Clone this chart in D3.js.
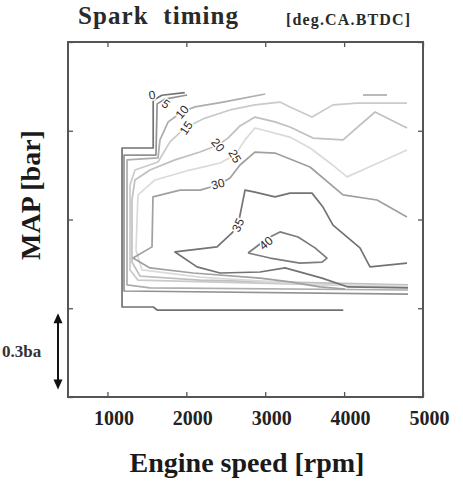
<!DOCTYPE html>
<html><head><meta charset="utf-8">
<script src="https://cdn.jsdelivr.net/npm/d3@7/dist/d3.min.js"></script>
<style>body{margin:0;background:#fff}svg{display:block}</style>
</head><body>
<svg id="chart" width="463" height="481"></svg>
<script>
// ---- data (engine speed in rpm, MAP in bar) ----
const xTicks = [1000, 2000, 3000, 4000, 5000];
const xTickLabels = ["1000", "2000", "3000", "4000", "5000"];
const yTicks = [0.25, 0.6, 0.95, 1.3, 1.65];
const levels = [0, 5, 10, 15, 20, 25, 30, 35, 40];

const c0 = [[[1980,1.450],[1690,1.440],[1580,1.420],[1580,1.232],[1185,1.232],[1185,0.605],[1580,0.605],[1630,0.593],[3990,0.593]]];
const c5 = [[[2010,1.441],[1730,1.425],[1630,1.406],[1615,1.204],[1210,1.204],[1210,0.668],[4810,0.656]]];
const c10 = [[[3000,1.445],[2465,1.413],[2110,1.394],[1945,1.374],[1770,1.335],[1666,1.264],[1641,1.193],[1248,1.185],[1248,0.692],[1539,0.680],[4810,0.672]],
             [[4240,1.441],[4544,1.441]]];
const c15 = [[[4797,1.409],[4163,1.409],[3859,1.402],[3593,1.354],[3314,1.394],[3187,1.413],[2870,1.402],[2554,1.382],[2237,1.350],[1983,1.311],[1793,1.256],[1641,1.177],[1349,1.145],[1286,1.086],[1286,0.751],[1387,0.711],[4810,0.684]]];
const c20 = [[[4797,1.311],[4392,1.374],[3986,1.264],[3606,1.271],[3314,1.315],[3124,1.335],[2870,1.354],[2680,1.319],[2528,1.271],[2401,1.244],[2173,1.216],[1856,1.185],[1539,1.145],[1349,1.106],[1311,1.027],[1311,0.782],[1413,0.727],[2173,0.711],[4810,0.692]]];
const c25 = [[[4797,1.224],[4290,1.153],[4037,1.118],[3821,1.173],[3568,1.232],[3314,1.275],[2870,1.311],[2744,1.264],[2617,1.204],[2427,1.173],[2046,1.145],[1603,1.106],[1387,1.047],[1362,0.830],[1438,0.751],[2173,0.723],[3694,0.692],[4810,0.688]]];
const c30 = [[[4797,0.960],[4417,1.027],[3986,1.047],[3568,1.157],[3124,1.212],[2870,1.216],[2680,1.165],[2554,1.114],[2401,1.086],[2173,1.066],[1920,1.066],[1577,1.039],[1565,0.842],[1324,0.798],[1539,0.759],[2085,0.739],[2934,0.719],[3314,0.704],[3694,0.684],[4011,0.676]]];
const c35 = [[[4797,0.778],[4328,0.763],[4201,0.838],[3859,0.928],[3732,0.999],[3593,1.054],[3314,1.054],[3124,1.039],[2870,1.058],[2744,1.066],[2706,1.007],[2655,0.928],[2579,0.897],[2389,0.842],[1856,0.822],[2135,0.763],[2427,0.739],[2934,0.743],[3251,0.759],[3720,0.719],[4049,0.684],[4810,0.680]]];
const c40 = [[[2782,0.818],[3035,0.877],[3187,0.901],[3416,0.881],[3631,0.838],[3783,0.798],[3720,0.782],[3441,0.778],[3061,0.798],[2782,0.818]]];
const contourSets = [c0, c5, c10, c15, c20, c25, c30, c35, c40];

const labelRpm = [1565, 1742, 1945, 1996, 2401, 2617, 2401, 2655, 3010];
const labelBar = [1.441, 1.406, 1.374, 1.311, 1.244, 1.200, 1.090, 0.928, 0.857];
const labelAngle = [-10, 35, -50, -55, 50, 60, -15, -65, -40];
const arrowBar = [0.28, 0.58];

// ---- styles ----
const levelColor = ["#727272","#929292","#adadad","#cacaca","#c0c0c0","#dadada","#a0a0a0","#737373","#7c7c7c"];

const svg = d3.select("#chart");
const W = 463, H = 481;
const L = 68, R = 423, T = 42, B = 397;
svg.append("rect").attr("width", W).attr("height", H).attr("fill", "#fff");

const x = d3.scaleLinear().domain([500, 5000]).range([L, R]);
const y = d3.scaleLinear().domain([0.25, 1.65]).range([B, T]);

const serif = "'Liberation Serif','Times New Roman',serif";

// contours
svg.append("clipPath").attr("id", "clip").append("rect")
  .attr("x", L).attr("y", T).attr("width", R - L).attr("height", B - T);
const g = svg.append("g").attr("clip-path", "url(#clip)");
const line = d3.line().x(d => x(d[0])).y(d => y(d[1]));
contourSets.forEach((segs, i) => {
  segs.forEach(seg => {
    g.append("path").attr("d", line(seg)).attr("fill", "none")
      .attr("stroke", levelColor[i]).attr("stroke-width", 1.7)
      .attr("stroke-linejoin", "round");
  });
});

// contour labels
levels.forEach((lv, i) => {
  svg.append("text")
    .attr("transform", `translate(${x(labelRpm[i])},${y(labelBar[i])}) rotate(${labelAngle[i]})`)
    .attr("text-anchor", "middle").attr("dy", "0.35em")
    .attr("font-family", "'Liberation Sans',Arial,sans-serif").attr("font-size", 12)
    .attr("fill", "#2a2a2a").attr("stroke", "#fff").attr("stroke-width", 3)
    .attr("paint-order", "stroke")
    .text(String(lv));
});

// axes (inward ticks)
const axB = svg.append("g").attr("transform", `translate(0,${B})`)
  .call(d3.axisBottom(x).tickValues(xTicks).tickFormat((d, i) => xTickLabels[i]).tickSizeInner(-5).tickSizeOuter(0).tickPadding(14));
const axT = svg.append("g").attr("transform", `translate(0,${T})`)
  .call(d3.axisTop(x).tickValues(xTicks).tickFormat("").tickSizeInner(-5).tickSizeOuter(0));
const axL = svg.append("g").attr("transform", `translate(${L},0)`)
  .call(d3.axisLeft(y).tickValues(yTicks).tickFormat("").tickSizeInner(-5).tickSizeOuter(0));
const axR = svg.append("g").attr("transform", `translate(${R},0)`)
  .call(d3.axisRight(y).tickValues(yTicks).tickFormat("").tickSizeInner(-5).tickSizeOuter(0));
[axB, axT, axL, axR].forEach(a => {
  a.select(".domain").remove();
  a.selectAll(".tick line").attr("stroke", "#555").attr("stroke-width", 1.3);
});
axB.selectAll(".tick text").attr("font-family", serif).attr("font-weight", "bold")
  .attr("font-size", 20).attr("fill", "#222").attr("dx", 6);

// frame
svg.append("rect").attr("x", L).attr("y", T).attr("width", R - L).attr("height", B - T)
  .attr("fill", "none").attr("stroke", "#555").attr("stroke-width", 2);

// titles
svg.append("text").attr("x", 78).attr("y", 24)
  .attr("font-family", serif).attr("font-weight", "bold").attr("font-size", 25)
  .attr("fill", "#2a2a2a").attr("textLength", 160).attr("lengthAdjust", "spacing")
  .style("white-space", "pre").text("Spark  timing");
svg.append("text").attr("x", 286).attr("y", 25)
  .attr("font-family", serif).attr("font-weight", "bold").attr("font-size", 16)
  .attr("fill", "#2a2a2a").attr("textLength", 124).attr("lengthAdjust", "spacing")
  .text("[deg.CA.BTDC]");

svg.append("text").attr("transform", "translate(40,195) rotate(-90)")
  .attr("text-anchor", "middle")
  .attr("font-family", serif).attr("font-weight", "bold").attr("font-size", 28)
  .attr("fill", "#1a1a1a").text("MAP [bar]");

svg.append("text").attr("x", 247).attr("y", 472).attr("text-anchor", "middle")
  .attr("font-family", serif).attr("font-weight", "bold").attr("font-size", 28)
  .attr("fill", "#1a1a1a").text("Engine speed [rpm]");

// 0.3 bar scale arrow
const ax = 58;
const yTop = y(arrowBar[1]), yBot = y(arrowBar[0]);
svg.append("line").attr("x1", ax).attr("x2", ax).attr("y1", yTop + 6).attr("y2", yBot - 6)
  .attr("stroke", "#111").attr("stroke-width", 2);
svg.append("path").attr("d", `M${ax},${yTop} L${ax - 4.5},${yTop + 10} L${ax + 4.5},${yTop + 10} Z`).attr("fill", "#111");
svg.append("path").attr("d", `M${ax},${yBot} L${ax - 4.5},${yBot - 10} L${ax + 4.5},${yBot - 10} Z`).attr("fill", "#111");
svg.append("text").attr("x", 2).attr("y", 357)
  .attr("font-family", serif).attr("font-weight", "bold").attr("font-size", 17)
  .attr("fill", "#333").text("0.3ba");
</script>
</body></html>
